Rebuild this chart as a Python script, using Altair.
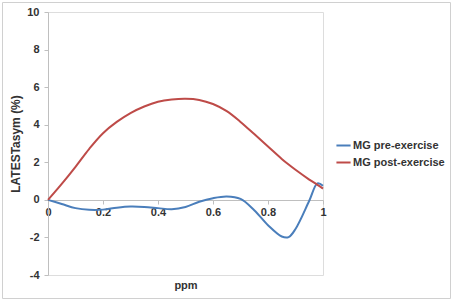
import altair as alt
import pandas as pd

ppm = [0, 0.05, 0.1, 0.15, 0.2, 0.25, 0.3, 0.35, 0.4, 0.45, 0.5,
       0.55, 0.6, 0.65, 0.7, 0.75, 0.8, 0.85, 0.875, 0.9, 0.95, 0.98, 1.0]
pre = [0, -0.22, -0.44, -0.53, -0.52, -0.42, -0.36, -0.38, -0.44, -0.50, -0.38,
       -0.10, 0.09, 0.18, 0.05, -0.55, -1.35, -1.95, -1.98, -1.55, -0.05, 0.88, 0.75]
post = [0, 0.85, 1.76, 2.72, 3.55, 4.15, 4.62, 4.97, 5.22, 5.34, 5.38,
        5.32, 5.10, 4.72, 4.15, 3.50, 2.84, 2.18, 1.88, 1.60, 1.08, 0.80, 0.6]
series = ["MG pre-exercise", "MG post-exercise"]
colors = ["#4a7ebb", "#be4b48"]

rows = []
for x, a, b in zip(ppm, pre, post):
    rows.append({"ppm": x, "val": a, "series": series[0]})
    rows.append({"ppm": x, "val": b, "series": series[1]})
df = pd.DataFrame(rows)

font = "Liberation Sans"

lines = alt.Chart(df).mark_line(interpolate="catmull-rom", strokeWidth=2).encode(
    x=alt.X("ppm:Q", scale=alt.Scale(domain=[0, 1], nice=False),
            axis=alt.Axis(values=[0, 0.2, 0.4, 0.6, 0.8, 1], format="~g",
                          title="ppm", offset=-75, titleY=79,
                          labelFont=font, labelFontWeight="bold", labelFontSize=11,
                          labelColor="#333333", titleFont=font, titleFontWeight="bold",
                          titleFontSize=11, titleColor="#333333",
                          domainColor="#bfbfbf", tickColor="#bfbfbf", tickSize=4,
                          labelPadding=2, grid=False, labelFlush=False)),
    y=alt.Y("val:Q", scale=alt.Scale(domain=[-4, 10], nice=False),
            axis=alt.Axis(values=[-4, -2, 0, 2, 4, 6, 8, 10], title="LATESTasym (%)",
                          labelExpr="toString(datum.value)",
                          labelFont=font, labelFontWeight="bold", labelFontSize=11,
                          labelColor="#333333", titleFont=font, titleFontWeight="bold",
                          titleFontSize=12, titleColor="#333333", titlePadding=4,
                          domainColor="#bfbfbf", tickColor="#bfbfbf", tickSize=4,
                          labelPadding=5, grid=False)),
    color=alt.Color("series:N", scale=alt.Scale(domain=series, range=colors),
                    legend=alt.Legend(title=None, orient="none", legendX=287, legendY=125,
                                      symbolType="stroke", symbolStrokeWidth=2,
                                      symbolSize=200, labelFont=font,
                                      labelFontWeight="bold", labelFontSize=11,
                                      labelColor="#333333", rowPadding=3, labelOffset=1)),
    order=alt.Order("ppm:Q"),
)

border = alt.Chart(pd.DataFrame({"a": [0]})).mark_rect(
    fill=None, stroke="#d0d0d0", strokeWidth=1
).encode(x=alt.value(-45.5), x2=alt.value(402.5), y=alt.value(-9.5), y2=alt.value(286.5))

chart = alt.layer(border, lines).properties(
    width=275, height=263,
    autosize=alt.AutoSizeParams(type="none"),
    padding={"left": 48, "top": 12, "right": 130, "bottom": 26},
).configure_view(stroke=None).configure(background="white")

chart.save("out.html", embed_options={"renderer": "svg", "actions": False})
